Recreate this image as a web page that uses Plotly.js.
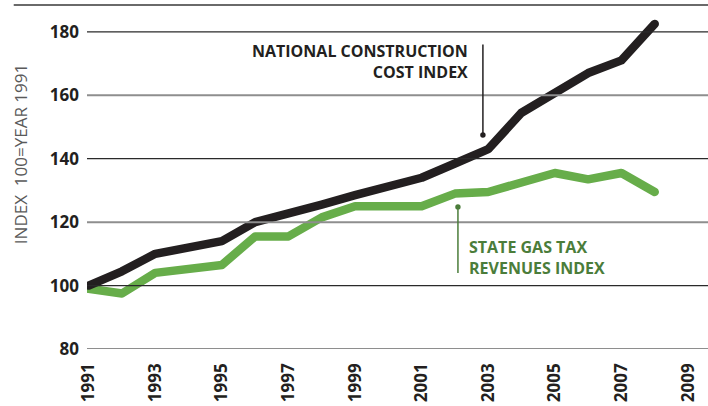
<!DOCTYPE html>
<html>
<head>
<meta charset="utf-8">
<script src="https://cdn.plot.ly/plotly-3.0.1.min.js"></script>
<style>
html,body{margin:0;padding:0;background:#fff;}
#chart{width:708px;height:406px;}
.js-line{stroke-linecap:round !important;stroke-linejoin:round !important;}
</style>
</head>
<body>
<div id="chart"></div>
<script>
const years = [1991,1992,1993,1994,1995,1996,1997,1998,1999,2000,2001,2002,2003,2004,2005,2006,2007,2008];
const constructionIndex = [100,104.5,110,112,114,120,122.5,125.5,128.5,131,134,138.5,143,154.5,161,167,171,182.5];
const gasTaxIndex = [99,97.5,104,105,106.5,115.5,115.5,121.5,125,125,125,129,129.5,132.5,135.5,133.5,135.5,129.5];
const xTicks = [1991,1993,1995,1997,1999,2001,2003,2005,2007,2009];
const yTicks = [80,100,120,140,160,180];

const FONT = '"Open Sans", "Noto Sans", sans-serif';
const DARK = '#231f20';
const GREEN = '#67ad4a';
const GREEN_TEXT = '#4b7d3a';

const traces = [
  {x: years, y: gasTaxIndex, mode: 'lines', line: {color: GREEN, width: 8.5}, hoverinfo: 'skip'},
  {x: years, y: constructionIndex, mode: 'lines', line: {color: DARK, width: 8.5}, hoverinfo: 'skip'}
];

const shapes = yTicks.map(v => {
  const dark = (v === 100 || v === 140 || v === 180);
  return {type: 'line', xref: 'paper', yref: 'y', x0: 0, x1: 1, y0: v, y1: v,
          layer: 'above', line: {color: dark ? '#2a2a2a' : '#8e8e8e', width: dark ? 1.2 : 2}};
});
// top rule
shapes.push({type: 'line', xref: 'paper', yref: 'paper', x0: -0.118, x1: 1, y0: 1.033, y1: 1.033,
             line: {color: '#6a6a6a', width: 2}});
// connectors
shapes.push({type: 'line', xref: 'x', yref: 'y', x0: 2002.84, x1: 2002.84, y0: 176, y1: 147.5,
             line: {color: DARK, width: 1.5}});
shapes.push({type: 'circle', xref: 'x', yref: 'y', xsizemode: 'pixel', ysizemode: 'pixel',
             xanchor: 2002.84, yanchor: 147.5, x0: -2.7, x1: 2.7, y0: -2.7, y1: 2.7,
             fillcolor: DARK, line: {width: 0}});
shapes.push({type: 'line', xref: 'x', yref: 'y', x0: 2002.09, x1: 2002.09, y0: 124.8, y1: 104,
             line: {color: GREEN_TEXT, width: 1.5}});
shapes.push({type: 'circle', xref: 'x', yref: 'y', xsizemode: 'pixel', ysizemode: 'pixel',
             xanchor: 2002.09, yanchor: 124.8, x0: -2.7, x1: 2.7, y0: -2.7, y1: 2.7,
             fillcolor: GREEN_TEXT, line: {width: 0}});

const annotations = [
  {text: 'NATIONAL CONSTRUCTION<br>COST INDEX', xref: 'x', yref: 'y', x: 2002.45, y: 170.5,
   xanchor: 'right', yanchor: 'middle', align: 'right', showarrow: false,
   font: {family: FONT, size: 16, color: DARK, weight: 'bold'}},
  {text: 'STATE GAS TAX<br>REVENUES INDEX', xref: 'x', yref: 'y', x: 2002.36, y: 108.9,
   xanchor: 'left', yanchor: 'middle', align: 'left', showarrow: false,
   font: {family: FONT, size: 16, color: GREEN_TEXT, weight: 'bold'}},
  {text: 'INDEX&nbsp;&nbsp;100=YEAR 1991', xref: 'paper', yref: 'y', x: -0.106, y: 141.5,
   xanchor: 'center', yanchor: 'middle', textangle: -90, showarrow: false,
   font: {family: FONT, size: 17, color: '#5a5a5a'}}
];

const layout = {
  width: 708, height: 406,
  margin: {l: 87, r: 0, t: 16, b: 57, pad: 0},
  paper_bgcolor: '#fff', plot_bgcolor: '#fff',
  showlegend: false,
  font: {family: FONT},
  xaxis: {range: [1990.95, 2009.6], tickvals: xTicks, ticktext: xTicks.map(String),
          tickangle: -90, showgrid: false, zeroline: false, showline: false, ticks: '',
          ticklabelstandoff: 10, fixedrange: true,
          tickfont: {family: FONT, size: 17, color: DARK, weight: 'bold'}},
  yaxis: {range: [80, 185], tickvals: yTicks, ticktext: yTicks.map(String),
          showgrid: false, zeroline: false, showline: false, ticks: '',
          ticklabelstandoff: 7, fixedrange: true,
          tickfont: {family: FONT, size: 17, color: DARK, weight: 'bold'}},
  shapes: shapes,
  annotations: annotations
};

Plotly.newPlot('chart', traces, layout, {displayModeBar: false, staticPlot: true});
</script>
</body>
</html>
